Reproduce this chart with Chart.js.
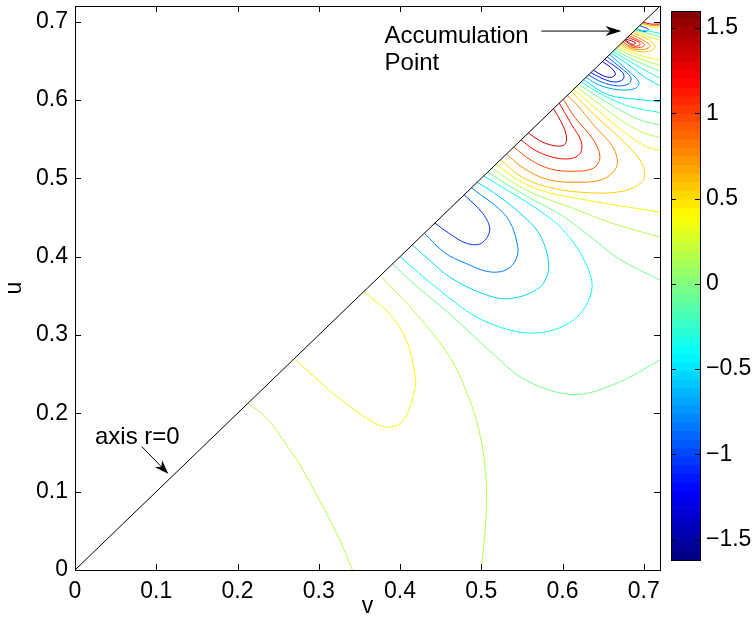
<!DOCTYPE html>
<html lang="en">
<head>
<meta charset="UTF-8">
<title>Contours near the accumulation point</title>
<style>
  body { margin: 0; background: #fff; }
  #wrap { position: relative; width: 754px; height: 622px; }
  #plot { position: absolute; left: 0; top: 0; }
  #cbar { position: absolute; left: 660px; top: 0; }
</style>
</head>
<body>
<div id="wrap">
  <canvas id="plot" width="754" height="622"></canvas>
  <canvas id="cbar" width="94" height="622"></canvas>
</div>

<script src="https://cdn.jsdelivr.net/npm/chart.js"></script>
<script>
// axes
const vMax = 0.72, uMax = 0.72;
const vTicks = [0, 0.1, 0.2, 0.3, 0.4, 0.5, 0.6, 0.7];
const uTicks = [0, 0.1, 0.2, 0.3, 0.4, 0.5, 0.6, 0.7];
const cMin = -1.62, cMax = 1.60;
const cTicks = [-1.5, -1, -0.5, 0, 0.5, 1, 1.5];

// the r=0 axis (u = v)
const axisLine = [[0, 0], [0.72, 0.72]];

// contour lines, [v, u] points
// lower part
const lineA = [[0.213,0.213],[0.235,0.195],[0.248,0.178],[0.262,0.157],[0.277,0.134],[0.301,0.089],[0.326,0.038],[0.3415,0]];
const lineB = [[0.270,0.270],[0.295,0.246],[0.318,0.225],[0.351,0.1995],[0.383,0.1824],[0.404,0.191],[0.418,0.229],[0.419,0.245],[0.408,0.293],[0.3875,0.327],[0.3587,0.3527],[0.356,0.356]];
const lineC = [[0.376,0.376],[0.381,0.370],[0.420,0.327],[0.461,0.272],[0.486,0.2165],[0.500,0.165],[0.506,0.114],[0.506,0.072],[0.503,0.03],[0.500,0]];
const lineD = [[0.391,0.391],[0.412,0.370],[0.461,0.327],[0.5145,0.276],[0.5556,0.242],[0.613,0.224],[0.666,0.238],[0.72,0.268]];
// first blue lobe
const lobe1a = [[0.443,0.443],[0.46,0.43],[0.482,0.417],[0.5,0.417],[0.5105,0.434],[0.502,0.455],[0.479,0.479]];
const lobe1b = [[0.430,0.430],[0.455,0.405],[0.482,0.391],[0.508,0.381],[0.528,0.382],[0.541,0.393],[0.545,0.412],[0.531,0.451],[0.488,0.488]];
const lobe1c = [[0.415,0.415],[0.438,0.394],[0.461,0.374],[0.502,0.3527],[0.535,0.3464],[0.572,0.361],[0.583,0.387],[0.572,0.428],[0.545,0.458],[0.515,0.482],[0.495,0.495]];
const lobe1d = [[0.400,0.400],[0.449,0.357],[0.502,0.3187],[0.5637,0.3024],[0.613,0.3187],[0.636,0.357],[0.627,0.395],[0.60,0.435],[0.57,0.46],[0.535,0.483],[0.503,0.503]];
// between blue and red lobes, out to the right edge
const sweep1a = [[0.508,0.508],[0.535,0.49],[0.565,0.472],[0.60,0.452],[0.635,0.425],[0.67,0.397],[0.72,0.37]];
const sweep1b = [[0.513,0.513],[0.54,0.494],[0.57,0.478],[0.61,0.463],[0.66,0.443],[0.72,0.425]];
const sweep1c = [[0.518,0.518],[0.545,0.498],[0.575,0.484],[0.62,0.474],[0.67,0.465],[0.72,0.457]];
// first red lobe
const lobe2e = [[0.524,0.524],[0.548,0.503],[0.578,0.49],[0.625,0.482],[0.676,0.484],[0.700,0.499],[0.696,0.522],[0.670,0.552],[0.640,0.580],[0.611,0.611]];
const lobe2d = [[0.531,0.531],[0.552,0.513],[0.580,0.499],[0.613,0.495],[0.650,0.499],[0.667,0.516],[0.662,0.540],[0.640,0.566],[0.617,0.595],[0.606,0.606]];
const lobe2c = [[0.540,0.540],[0.560,0.524],[0.585,0.512],[0.613,0.509],[0.638,0.513],[0.646,0.527],[0.638,0.549],[0.615,0.578],[0.601,0.601]];
const lobe2b = [[0.549,0.549],[0.566,0.536],[0.588,0.527],[0.609,0.525],[0.622,0.532],[0.623,0.547],[0.611,0.569],[0.596,0.596]];
const lobe2a = [[0.558,0.558],[0.572,0.548],[0.588,0.542],[0.601,0.542],[0.605,0.549],[0.602,0.564],[0.594,0.58],[0.589,0.589]];
// between red and second blue lobe
const sweep2a = [[0.614,0.614],[0.64,0.59],[0.672,0.562],[0.70,0.542],[0.72,0.535]];
const sweep2b = [[0.617,0.617],[0.645,0.595],[0.675,0.572],[0.70,0.558],[0.72,0.552]];
const sweep2c = [[0.620,0.620],[0.65,0.600],[0.68,0.582],[0.70,0.573],[0.72,0.568]];
const sweep2d = [[0.623,0.623],[0.652,0.605],[0.685,0.591],[0.72,0.584]];
const sweep2e = [[0.626,0.626],[0.655,0.607],[0.69,0.601],[0.72,0.598]];
// second blue lobe
const lobe3d = [[0.629,0.629],[0.645,0.619],[0.67,0.613],[0.69,0.615],[0.694,0.623],[0.68,0.638],[0.658,0.658]];
const lobe3c = [[0.632,0.632],[0.648,0.623],[0.668,0.618],[0.682,0.621],[0.684,0.629],[0.672,0.641],[0.655,0.655]];
const lobe3b = [[0.635,0.635],[0.65,0.627],[0.665,0.623],[0.675,0.627],[0.674,0.635],[0.652,0.652]];
const lobe3a = [[0.638,0.638],[0.65,0.631],[0.660,0.629],[0.665,0.633],[0.66,0.641],[0.649,0.649]];
// between second blue and second red lobe
const sweep3a = [[0.660,0.660],[0.684,0.643],[0.70,0.630],[0.72,0.618]];
const sweep3b = [[0.662,0.662],[0.688,0.646],[0.705,0.636],[0.72,0.628]];
const sweep3c = [[0.664,0.664],[0.69,0.650],[0.72,0.637]];
const sweep3d = [[0.666,0.666],[0.692,0.654],[0.72,0.644]];
const sweep3e = [[0.668,0.668],[0.695,0.657],[0.72,0.651]];
// second red lobe
const lobe4e = [[0.670,0.670],[0.688,0.663],[0.706,0.662],[0.714,0.668],[0.706,0.677],[0.686,0.686]];
const lobe4d = [[0.672,0.672],[0.688,0.665],[0.702,0.665],[0.708,0.669],[0.700,0.676],[0.684,0.684]];
const lobe4c = [[0.674,0.674],[0.687,0.667],[0.699,0.668],[0.701,0.671],[0.694,0.676],[0.682,0.682]];
const lobe4b = [[0.676,0.676],[0.687,0.669],[0.695,0.670],[0.694,0.674],[0.680,0.680]];
const lobe4a = [[0.677,0.677],[0.686,0.671],[0.690,0.673],[0.678,0.678]];
// right at the accumulation point
const sweep4a = [[0.688,0.688],[0.703,0.682],[0.72,0.676]];
const sweep4b = [[0.689,0.689],[0.705,0.685],[0.72,0.681]];
const sweep4c = [[0.690,0.690],[0.706,0.688],[0.72,0.685]];
const lobe5a = [[0.691,0.691],[0.700,0.6875],[0.706,0.690],[0.695,0.695]];
const sweep5a = [[0.697,0.697],[0.71,0.693],[0.72,0.693]];
const sweep5b = [[0.698,0.698],[0.71,0.695],[0.72,0.695]];
const sweep5c = [[0.6995,0.6995],[0.708,0.697],[0.72,0.697]];

const contourLines = [
  lineA, lineB, lineC, lineD,
  lobe1a, lobe1b, lobe1c, lobe1d,
  sweep1a, sweep1b, sweep1c,
  lobe2e, lobe2d, lobe2c, lobe2b, lobe2a,
  sweep2a, sweep2b, sweep2c, sweep2d, sweep2e,
  lobe3d, lobe3c, lobe3b, lobe3a,
  sweep3a, sweep3b, sweep3c, sweep3d, sweep3e,
  lobe4e, lobe4d, lobe4c, lobe4b, lobe4a,
  sweep4a, sweep4b, sweep4c, lobe5a,
  sweep5a, sweep5b, sweep5c
];
const contourLevels = [
  0.15, 0.35, 0.15, -0.05,
  -1.05, -0.8, -0.55, -0.35,
  -0.05, 0.15, 0.35,
  0.55, 0.75, 0.95, 1.15, 1.35,
  0.35, 0.15, -0.05, -0.3, -0.5,
  -0.7, -0.9, -1.1, -1.35,
  -0.5, -0.3, -0.05, 0.15, 0.35,
  0.55, 0.75, 0.95, 1.15, 1.45,
  0.35, -0.05, -0.4, -1.1,
  0.35, 0.75, 1.3
];

// annotation anchors in data units
const accText = [0.381, 0.681];
const accText2 = [0.381, 0.647];
const accArrow = [[0.574, 0.688], [0.6725, 0.688]];
const axisText = [0.0246, 0.169];
const axisArrow = [[0.082, 0.1577], [0.1148, 0.1229]];

const FONT = '"Liberation Sans", Arial, Helvetica, sans-serif';
Chart.defaults.font.family = FONT;
Chart.defaults.font.size = 23;
Chart.defaults.color = '#000';

function jet(t) {
  const c = x => Math.round(255 * Math.max(0, Math.min(1, x)));
  return 'rgb(' + c(1.5 - Math.abs(4 * t - 3)) + ',' + c(1.5 - Math.abs(4 * t - 2)) + ',' + c(1.5 - Math.abs(4 * t - 1)) + ')';
}
const levelColor = lv => jet((lv - cMin) / (cMax - cMin));

function arrow(ctx, x0, y0, x1, y1, len, half) {
  const a = Math.atan2(y1 - y0, x1 - x0);
  ctx.beginPath();
  ctx.moveTo(x0, y0);
  ctx.lineTo(x1 - len * Math.cos(a) * 0.6, y1 - len * Math.sin(a) * 0.6);
  ctx.stroke();
  ctx.beginPath();
  ctx.moveTo(x1, y1);
  ctx.lineTo(x1 - len * Math.cos(a) + half * Math.sin(a), y1 - len * Math.sin(a) - half * Math.cos(a));
  ctx.lineTo(x1 - len * 0.7 * Math.cos(a), y1 - len * 0.7 * Math.sin(a));
  ctx.lineTo(x1 - len * Math.cos(a) - half * Math.sin(a), y1 - len * Math.sin(a) + half * Math.cos(a));
  ctx.closePath();
  ctx.fill();
}

// no automatic label padding around the plot box
function noPad(s) {
  s.paddingLeft = 0; s.paddingRight = 0; s.paddingTop = 0; s.paddingBottom = 0;
}

// box, inward ticks and the two notes
const plotDecor = {
  id: 'plotDecor',
  afterDatasetsDraw(chart) {
    const { ctx, chartArea: a, scales: { x, y } } = chart;
    ctx.save();
    ctx.strokeStyle = '#000';
    ctx.lineWidth = 1;
    ctx.strokeRect(Math.round(a.left) + 0.5, Math.round(a.top) + 0.5, Math.round(a.right - a.left), Math.round(a.bottom - a.top));
    ctx.beginPath();
    vTicks.forEach(v => {
      const px = Math.round(x.getPixelForValue(v)) + 0.5;
      ctx.moveTo(px, a.bottom); ctx.lineTo(px, a.bottom - 6);
      ctx.moveTo(px, a.top); ctx.lineTo(px, a.top + 6);
    });
    uTicks.forEach(u => {
      const py = Math.round(y.getPixelForValue(u)) + 0.5;
      ctx.moveTo(a.left, py); ctx.lineTo(a.left + 6, py);
      ctx.moveTo(a.right, py); ctx.lineTo(a.right - 6, py);
    });
    ctx.stroke();
    ctx.restore();
  },
  afterDraw(chart) {
    const { ctx, scales: { x, y } } = chart;
    ctx.save();
    ctx.fillStyle = '#000';
    ctx.strokeStyle = '#000';
    ctx.lineWidth = 1;
    ctx.font = '24px ' + FONT;
    ctx.textAlign = 'left';
    ctx.textBaseline = 'middle';
    ctx.fillText('Accumulation', x.getPixelForValue(accText[0]), y.getPixelForValue(accText[1]));
    ctx.fillText('Point', x.getPixelForValue(accText2[0]), y.getPixelForValue(accText2[1]));
    ctx.fillText('axis r=0', x.getPixelForValue(axisText[0]), y.getPixelForValue(axisText[1]));
    arrow(ctx, x.getPixelForValue(accArrow[0][0]), y.getPixelForValue(accArrow[0][1]),
      x.getPixelForValue(accArrow[1][0]), y.getPixelForValue(accArrow[1][1]), 16, 5);
    arrow(ctx, x.getPixelForValue(axisArrow[0][0]), y.getPixelForValue(axisArrow[0][1]),
      x.getPixelForValue(axisArrow[1][0]), y.getPixelForValue(axisArrow[1][1]), 14, 5);
    ctx.restore();
  }
};

const datasets = [{
  data: axisLine, showLine: true, borderColor: '#000', borderWidth: 1, pointRadius: 0, tension: 0
}].concat(contourLines.map((pts, i) => ({
  data: pts,
  showLine: true,
  borderColor: levelColor(contourLevels[i]),
  borderWidth: 1,
  pointRadius: 0,
  tension: 0.35
})));

const noGrid = { display: false, drawTicks: false, tickLength: 0 };

new Chart(document.getElementById('plot'), {
  type: 'scatter',
  data: { datasets },
  options: {
    responsive: false,
    animation: false,
    devicePixelRatio: 1,
    events: [],
    layout: { padding: { left: 0, top: 6, right: 94, bottom: 0 } },
    plugins: { legend: { display: false }, tooltip: { enabled: false } },
    scales: {
      x: {
        type: 'linear', min: 0, max: vMax,
        afterBuildTicks: s => { s.ticks = vTicks.map(v => ({ value: v })); },
        afterFit: s => { s.height = 52; noPad(s); },
        grid: noGrid, border: { display: false },
        ticks: { autoSkip: false, maxRotation: 0, padding: 8, callback: v => String(v) },
        title: { display: true, text: 'v', padding: { top: 0, bottom: 2 } }
      },
      y: {
        type: 'linear', min: 0, max: uMax,
        afterBuildTicks: s => { s.ticks = uTicks.map(v => ({ value: v })); },
        afterFit: s => { s.width = 75; noPad(s); },
        grid: noGrid, border: { display: false },
        ticks: { autoSkip: false, padding: 7, callback: v => String(v) },
        title: { display: true, text: 'u', padding: { top: 1, bottom: 0 } }
      }
    }
  },
  plugins: [plotDecor]
});

// colour bar: 64 jet bands
const nBands = 64;
const bandEdges = Array.from({ length: nBands + 1 }, (_, i) => cMin + (cMax - cMin) * i / nBands);

const cbarDecor = {
  id: 'cbarDecor',
  afterDatasetsDraw(chart) {
    const { ctx, chartArea: a, scales: { y } } = chart;
    ctx.save();
    ctx.strokeStyle = '#000';
    ctx.lineWidth = 1;
    ctx.strokeRect(Math.round(a.left) + 0.5, Math.round(a.top) + 0.5, Math.round(a.right - a.left), Math.round(a.bottom - a.top));
    ctx.beginPath();
    cTicks.forEach(c => {
      const py = Math.round(y.getPixelForValue(c)) + 0.5;
      ctx.moveTo(a.left, py); ctx.lineTo(a.left + 5, py);
      ctx.moveTo(a.right, py); ctx.lineTo(a.right - 5, py);
    });
    ctx.stroke();
    ctx.restore();
  }
};

new Chart(document.getElementById('cbar'), {
  type: 'bar',
  data: {
    labels: [''],
    datasets: bandEdges.slice(0, nBands).map((lo, i) => ({
      data: [[lo, bandEdges[i + 1]]],
      backgroundColor: jet((i + 0.5) / nBands),
      borderWidth: 0,
      barPercentage: 1,
      categoryPercentage: 1,
      grouped: false
    }))
  },
  options: {
    responsive: false,
    animation: false,
    devicePixelRatio: 1,
    events: [],
    layout: { padding: { left: 11, top: 11, right: 0, bottom: 62 } },
    plugins: { legend: { display: false }, tooltip: { enabled: false } },
    scales: {
      x: { display: false },
      y: {
        position: 'right', min: cMin, max: cMax,
        afterBuildTicks: s => { s.ticks = cTicks.map(v => ({ value: v })); },
        afterFit: s => { s.width = 54; noPad(s); },
        grid: noGrid, border: { display: false },
        ticks: { autoSkip: false, padding: 6, callback: v => (v < 0 ? '\u2212' + String(-v) : String(v)) }
      }
    }
  },
  plugins: [cbarDecor]
});
</script>
</body>
</html>
